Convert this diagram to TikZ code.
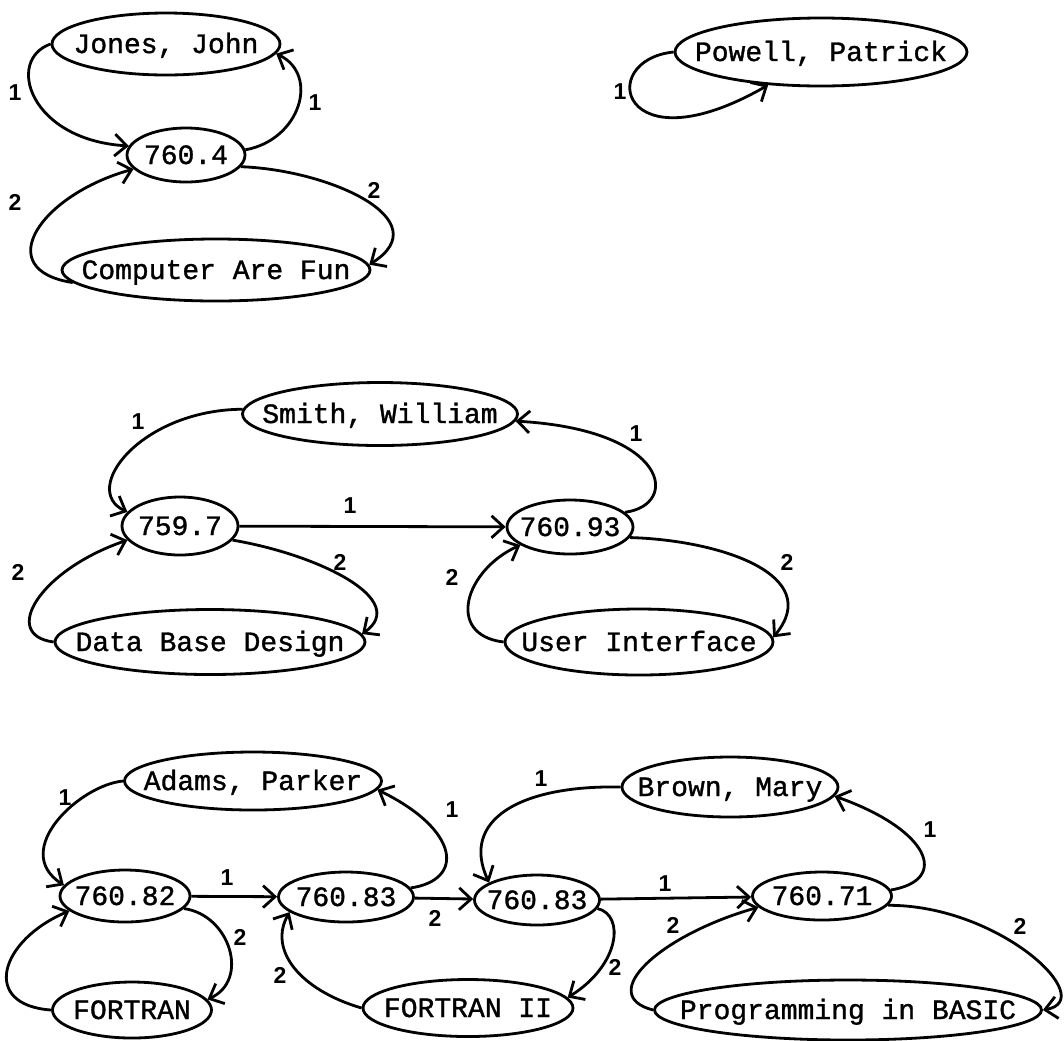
\documentclass[tikz,border=0pt]{standalone}
\usepackage{fontspec}
\setmainfont{Liberation Serif}
\newfontfamily\nodefont[FakeBold=1.2]{Liberation Mono}
\newfontfamily\lblfont{Liberation Sans}
\usetikzlibrary{shapes.geometric,arrows.meta}
\begin{document}
\begin{tikzpicture}[x=0.5pt,y=-0.5pt,
  oval/.style={draw, ellipse, line width=1.4pt, inner xsep=-30pt, inner ysep=-20pt,
    text height=11pt, text depth=2pt, font=\nodefont\fontsize{14}{16}\selectfont},
  sz/.style 2 args={minimum width=#1pt, minimum height=#2pt},
  conn/.style={line width=1.4pt, -{Straight Barb[length=6pt,width=11pt,line width=1.4pt]}},
  lbl/.style={font=\lblfont\bfseries\fontsize{11.5}{11.5}\selectfont, inner sep=0pt}]
\useasboundingbox[fill=white] (0,0) rectangle (1064,1040);

% ---------- group 1 ----------
\node[oval, sz={114}{31}] (jones) at (166,44) {Jones, John};
\node[oval, sz={59}{27}] (n7604) at (186,155) {760.4};
\node[oval, sz={154}{31}] (caf) at (216,270) {Computer Are Fun};

\draw[conn] (jones.180) .. controls (5,60) and (30,140) .. (n7604.171);
\draw[conn] (n7604.5) .. controls (300,140) and (320,75) .. (jones.-5);
\draw[conn] (n7604.-12) .. controls (330,170) and (440,220) .. (caf.2);
\draw[conn] (caf.185) .. controls (-10,270) and (40,195) .. (n7604.195);
\node[lbl] (l1a) at (15,93) {1};
\node[lbl] (l1b) at (315,103) {1};
\node[lbl] (l1c) at (374,190) {2};
\node[lbl] (l1d) at (15,202) {2};

% ---------- Powell ----------
\node[oval, sz={146}{34}] (powell) at (821,52) {Powell, Patrick};
\draw[conn] (powell.180) .. controls (595,60) and (620,170) .. (powell.212);
\node[lbl] (l2a) at (620,92) {1};

% ---------- group 2 ----------
\node[oval, sz={137.5}{31.5}] (smith) at (380,414) {Smith, William};
\node[oval, sz={58}{29}] (n7597) at (180,526) {759.7};
\node[oval, sz={63}{27}] (n76093) at (570,527) {760.93};
\node[oval, sz={155}{32.5}] (dbd) at (210,642) {Data Base Design};
\node[oval, sz={134}{33}] (ui) at (639,642) {User Interface};

\draw[conn] (smith.178) .. controls (140,410) and (80,490) .. (n7597.165);
\draw[conn] (n76093.15) .. controls (680,505) and (670,430) .. (smith.-3);
\draw[conn] (n7597) -- (n76093);
\draw[conn] (n7597.-15) .. controls (320,555) and (410,600) .. (dbd.3);
\draw[conn] (dbd.180) .. controls (0,635) and (40,570) .. (n7597.195);
\draw[conn] (n76093.-10) .. controls (720,540) and (825,575) .. (ui.2);
\draw[conn] (ui.180) .. controls (445,635) and (465,570) .. (n76093.200);
\node[lbl] (l3a) at (138,422) {1};
\node[lbl] (l3b) at (636,434) {1};
\node[lbl] (l3c) at (350,506) {1};
\node[lbl] (l3d) at (340,562) {2};
\node[lbl] (l3e) at (18,572) {2};
\node[lbl] (l3f) at (787,562) {2};
\node[lbl] (l3g) at (452,577) {2};

% ---------- group 3 ----------
\node[oval, sz={128.5}{29}] (adams) at (253,781) {Adams, Parker};
\node[oval, sz={65}{26}] (n76082) at (125,896) {760.82};
\node[oval, sz={67.5}{25}] (n76083a) at (346,897) {760.83};
\node[oval, sz={79.5}{28}] (fortran) at (132,1010) {FORTRAN};
\node[oval, sz={105}{28.5}] (fortranii) at (468,1008) {FORTRAN II};
\node[oval, sz={62.5}{25}] (n76083b) at (537,900) {760.83};
\node[oval, sz={108}{30}] (brown) at (730,787) {Brown, Mary};
\node[oval, sz={69.5}{24}] (n76071) at (822,896) {760.71};
\node[oval, sz={193.5}{30}] (prog) at (848,1010) {Programming in BASIC};

\draw[conn] (adams.180) .. controls (80,785) and (10,850) .. (n76082.170);
\draw[conn] (n76083a.8) .. controls (465,880) and (460,830) .. (adams.-4);
\draw[conn] (n76082) -- (n76083a);
\draw[conn] (n76082.-12) .. controls (230,915) and (250,980) .. (fortran.8);
\draw[conn] (fortran.180) .. controls (-20,1005) and (0,940) .. (n76082.195);
\draw[conn] (n76083a) -- (n76083b);
\draw[conn] (fortranii.180) .. controls (300,990) and (268,950) .. (n76083a.195);
\draw[conn] (brown.180) .. controls (520,785) and (460,820) .. (n76083b.160);
\draw[conn] (n76071.5) .. controls (950,880) and (930,830) .. (brown.-5);
\draw[conn] (n76083b) -- (n76071);
\draw[conn] (n76083b.-8) .. controls (625,915) and (620,965) .. (fortranii.6);
\draw[conn] (prog.180) .. controls (595,995) and (660,935) .. (n76071.190);
\draw[conn] (n76071.-8) .. controls (1000,905) and (1100,1000) .. (prog.east);
\node[lbl] (l4a) at (65,798) {1};
\node[lbl] (l4b) at (452,810) {1};
\node[lbl] (l4c) at (227,878) {1};
\node[lbl] (l4d) at (240,937) {2};
\node[lbl] (l4e) at (435,918) {2};
\node[lbl] (l4f) at (280,975) {2};
\node[lbl] (l4g) at (541,779) {1};
\node[lbl] (l4h) at (930,830) {1};
\node[lbl] (l4i) at (665,884) {1};
\node[lbl] (l4j) at (615,967) {2};
\node[lbl] (l4k) at (673,925) {2};
\node[lbl] (l4l) at (1020,926) {2};
\end{tikzpicture}
\end{document}
